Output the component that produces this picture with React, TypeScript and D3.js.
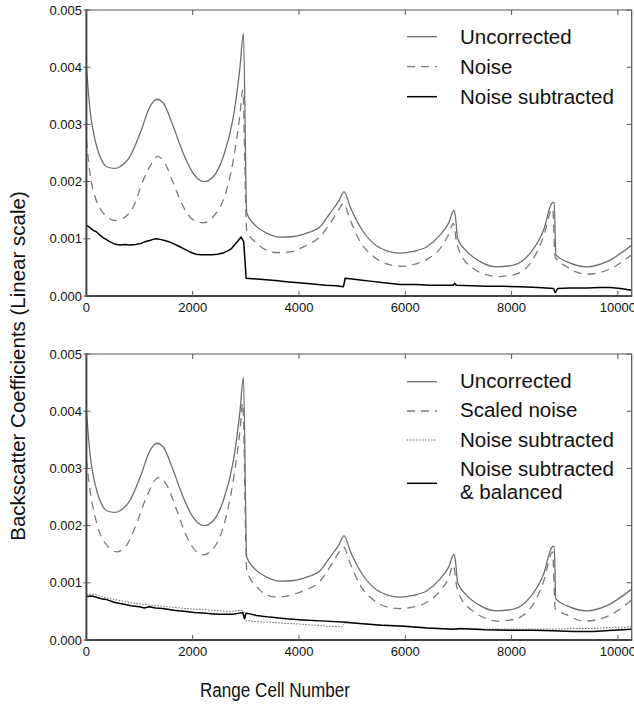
import React from "react";
import * as d3 from "d3";

const X_MAX = 10260;
const xTicks = [0, 2000, 4000, 6000, 8000, 10000];
const yTicks = [0, 0.001, 0.002, 0.003, 0.004, 0.005];
const yTickLabels = ["0.000", "0.001", "0.002", "0.003", "0.004", "0.005"];

// Uncorrected backscatter (same in both panels)
const uncorrected: [number, number][] = [
  [0, 0.00401], [68, 0.00325], [162, 0.00273], [256, 0.00244], [382, 0.00226], [538, 0.00223],
  [632, 0.00226], [820, 0.00244], [1009, 0.00284], [1197, 0.00331], [1323, 0.00344], [1448, 0.00337],
  [1636, 0.00296], [1824, 0.00249], [2012, 0.00214], [2214, 0.002], [2389, 0.00209], [2577, 0.00244],
  [2765, 0.00313], [2891, 0.00401], [2954, 0.00459], [3017, 0.00145], [3142, 0.00127], [3393, 0.0011],
  [3644, 0.00103], [3895, 0.00104], [4146, 0.0011], [4397, 0.00121], [4585, 0.00145], [4742, 0.00165],
  [4849, 0.00182], [4962, 0.00156], [5150, 0.00121], [5401, 0.00092], [5652, 0.00079], [5903, 0.00075],
  [6154, 0.00078], [6405, 0.00086], [6656, 0.00107], [6813, 0.00127], [6920, 0.0015], [6957, 0.00127],
  [6982, 0.00101], [7158, 0.00078], [7409, 0.0006], [7720, 0.00051], [8037, 0.00054], [8350, 0.00075],
  [8601, 0.00115], [8758, 0.00162], [8802, 0.00164], [8833, 0.00072], [9040, 0.0006], [9417, 0.00051],
  [9794, 0.0006], [10260, 0.00089],
];

// Top panel: noise estimate
const noise: [number, number][] = [
  [0, 0.00273], [68, 0.00214], [162, 0.00174], [256, 0.00153], [382, 0.00139], [538, 0.00132],
  [695, 0.00136], [883, 0.00156], [1072, 0.00203], [1229, 0.00232], [1335, 0.00244], [1480, 0.00232],
  [1636, 0.00197], [1824, 0.00156], [2012, 0.00133], [2200, 0.00128], [2389, 0.00139], [2577, 0.00168],
  [2765, 0.00238], [2891, 0.00319], [2941, 0.0036], [3017, 0.00115], [3205, 0.00092], [3393, 0.0008],
  [3581, 0.00076], [3832, 0.00077], [4083, 0.00086], [4397, 0.00104], [4585, 0.00127], [4742, 0.0015],
  [4836, 0.00162], [4962, 0.00133], [5150, 0.00095], [5401, 0.00069], [5652, 0.00056], [5903, 0.00052],
  [6154, 0.00055], [6405, 0.00064], [6656, 0.00083], [6813, 0.00107], [6907, 0.00127], [6957, 0.00098],
  [7033, 0.00075], [7284, 0.00048], [7534, 0.00037], [7720, 0.00034], [8037, 0.00037], [8350, 0.00057],
  [8601, 0.00104], [8771, 0.00153], [8821, 0.00068], [9040, 0.00051], [9417, 0.00038], [9794, 0.00045],
  [10260, 0.00072],
];

// Top panel: noise subtracted
const noiseSubtracted: [number, number][] = [
  [0, 0.00124], [60, 0.0012], [125, 0.00115], [190, 0.00112], [250, 0.00107], [330, 0.00101], [440, 0.00095],
  [530, 0.00091], [627, 0.00089], [720, 0.0009], [815, 0.00089], [930, 0.0009], [1035, 0.00092], [1100, 0.00095],
  [1190, 0.00097], [1250, 0.00099], [1310, 0.001], [1390, 0.00099], [1470, 0.00097], [1550, 0.00095],
  [1625, 0.00092], [1740, 0.00087], [1845, 0.00082], [1950, 0.00077], [2060, 0.00073], [2150, 0.00072],
  [2250, 0.00072], [2360, 0.00072], [2470, 0.00073], [2570, 0.00075], [2660, 0.00079], [2730, 0.00083],
  [2785, 0.00089], [2850, 0.00096], [2910, 0.00103], [2960, 0.00095], [2985, 0.0006], [3005, 0.00031],
  [3320, 0.00029], [3560, 0.00027], [3760, 0.00025], [4000, 0.00023], [4260, 0.00021], [4500, 0.00019],
  [4700, 0.00018], [4836, 0.00016], [4868, 0.00031], [4962, 0.0003], [5150, 0.00028], [5338, 0.00026],
  [5600, 0.00023], [5903, 0.0002], [6200, 0.0002], [6468, 0.00019], [6700, 0.00019], [6907, 0.00019],
  [6930, 0.00022], [6960, 0.00019], [7250, 0.00018], [7534, 0.00017], [7850, 0.00017], [8162, 0.00016],
  [8500, 0.00015], [8790, 0.00013], [8821, 0.00006], [8865, 0.00013], [9100, 0.00014], [9417, 0.00014],
  [9650, 0.00015], [9856, 0.00015], [10050, 0.00013], [10260, 0.0001],
];

// Bottom panel: scaled noise
const scaledNoise: [number, number][] = [
  [0, 0.00315], [68, 0.00262], [162, 0.00216], [256, 0.00186], [382, 0.00166], [570, 0.00154],
  [758, 0.00166], [946, 0.00204], [1135, 0.00251], [1354, 0.00284], [1511, 0.00271], [1699, 0.00227],
  [1887, 0.00181], [2075, 0.00154], [2200, 0.00149], [2389, 0.0016], [2577, 0.00198], [2765, 0.0028],
  [2891, 0.00367], [2941, 0.00414], [3017, 0.00122], [3205, 0.00093], [3393, 0.00079], [3581, 0.00075],
  [3832, 0.00078], [4083, 0.00086], [4397, 0.00103], [4585, 0.00128], [4742, 0.00152], [4836, 0.00163],
  [4962, 0.00134], [5150, 0.00096], [5401, 0.0007], [5652, 0.00058], [5903, 0.00055], [6154, 0.00058],
  [6405, 0.00066], [6656, 0.00086], [6813, 0.00108], [6907, 0.00131], [6957, 0.00099], [7033, 0.00076],
  [7284, 0.0005], [7534, 0.00037], [7720, 0.00033], [8037, 0.00036], [8350, 0.00055], [8601, 0.00102],
  [8771, 0.00154], [8821, 0.00055], [9040, 0.00044], [9354, 0.00033], [9794, 0.00041], [10260, 0.0007],
];

// Bottom panel: noise subtracted (dotted)
const noiseSubtracted2: [number, number][] = [
  [0, 0.0008], [90, 0.0008], [181, 0.00079], [280, 0.00076], [370, 0.00074], [520, 0.00071], [683, 0.00068],
  [840, 0.00065], [997, 0.00063], [1200, 0.00061], [1436, 0.00059], [1650, 0.00057], [1876, 0.00055],
  [2200, 0.00053], [2503, 0.00051], [2754, 0.0005], [2900, 0.00052], [2942, 0.00051], [2974, 0.00049],
  [3005, 0.00034], [3200, 0.00032], [3444, 0.00031], [3760, 0.00029], [4000, 0.00028], [4260, 0.00026],
  [4550, 0.00024], [4800, 0.00023], [4860, 0.0003], [5139, 0.00029], [5500, 0.00027], [5966, 0.00025],
  [6400, 0.00022], [6907, 0.00019], [7400, 0.00019], [7974, 0.00019], [8400, 0.00019], [8790, 0.00019],
  [9150, 0.0002], [9543, 0.0002], [9900, 0.00022], [10260, 0.00023],
];

// Bottom panel: noise subtracted & balanced (solid black)
const balanced: [number, number][] = [
  [0, 0.00076], [90, 0.00077], [181, 0.00075], [280, 0.00072], [370, 0.00071], [520, 0.00066], [683, 0.00063],
  [840, 0.0006], [997, 0.00058], [1090, 0.00056], [1185, 0.00058], [1300, 0.00056], [1436, 0.00055],
  [1650, 0.00052], [1876, 0.0005], [2030, 0.00048], [2190, 0.00047], [2350, 0.00046], [2503, 0.00045],
  [2754, 0.00045], [2880, 0.00047], [2942, 0.00048], [2974, 0.00037], [3005, 0.00047], [3200, 0.00043],
  [3444, 0.0004], [3760, 0.00037], [4072, 0.00035], [4500, 0.00033], [4888, 0.00031], [5139, 0.00029],
  [5550, 0.00026], [5966, 0.00024], [6400, 0.00021], [6907, 0.00019], [7033, 0.0002], [7500, 0.00018],
  [7974, 0.00017], [8400, 0.00017], [8790, 0.00016], [9150, 0.00015], [9543, 0.00015], [9900, 0.00017],
  [10260, 0.00019],
];

const FONT = "'Liberation Sans', Arial, Helvetica, sans-serif";
const LEFT = 86.4;
const RIGHT = 631.7;

type Series = { data: [number, number][]; color: string; width: number; dash?: string; curve: d3.CurveFactory };

function Panel({ top, bottom, series }: { top: number; bottom: number; series: Series[] }) {
  const x = d3.scaleLinear().domain([0, X_MAX]).range([LEFT, RIGHT]);
  const y = d3.scaleLinear().domain([0, 0.005]).range([bottom, top]);
  const clipId = `clip-${top}`;
  return (
    <g>
      <defs>
        <clipPath id={clipId}>
          <rect x={LEFT} y={top} width={RIGHT - LEFT} height={bottom - top} />
        </clipPath>
      </defs>
      <g clipPath={`url(#${clipId})`}>
        {series.map((s, i) => {
          const line = d3
            .line<[number, number]>()
            .x((d) => x(d[0]))
            .y((d) => y(d[1]))
            .curve(s.curve);
          return (
            <path
              key={i}
              d={line(s.data) || ""}
              fill="none"
              stroke={s.color}
              strokeWidth={s.width}
              strokeDasharray={s.dash}
              strokeLinejoin="round"
            />
          );
        })}
      </g>
      {/* frame */}
      <line x1={LEFT} x2={RIGHT} y1={top} y2={top} stroke="#555" strokeWidth={1.2} />
      <line x1={RIGHT} x2={RIGHT} y1={top} y2={bottom} stroke="#555" strokeWidth={1.2} />
      <line x1={LEFT} x2={LEFT} y1={top - 0.6} y2={bottom + 1} stroke="#444" strokeWidth={2} />
      <line x1={LEFT - 1} x2={RIGHT + 0.6} y1={bottom} y2={bottom} stroke="#444" strokeWidth={2} />
      {xTicks.map((t) => (
        <g key={`x${t}`}>
          <line x1={x(t)} x2={x(t)} y1={bottom} y2={bottom - 5} stroke="#555" strokeWidth={1} />
          <line x1={x(t)} x2={x(t)} y1={top} y2={top + 5} stroke="#555" strokeWidth={1} />
          <text x={x(t)} y={bottom + 15.7} textAnchor="middle" fontSize={13} fontFamily={FONT} fill="#111">
            {t}
          </text>
        </g>
      ))}
      {yTicks.map((t, i) => (
        <g key={`y${i}`}>
          <line x1={LEFT - 3} x2={LEFT + 4} y1={y(t)} y2={y(t)} stroke="#555" strokeWidth={1} />
          <line x1={RIGHT} x2={RIGHT - 5} y1={y(t)} y2={y(t)} stroke="#555" strokeWidth={1} />
          <text x={82} y={y(t) + 4.6} textAnchor="end" fontSize={13} fontFamily={FONT} fill="#111">
            {yTickLabels[i]}
          </text>
        </g>
      ))}
    </g>
  );
}

const GRAY = "#6e6e6e";
const DASH_GRAY = "#7a7a7a";

function LegendRow({ y, base, color, width, dash, lines }: { y: number; base: number; color: string; width: number; dash?: string; lines: string[] }) {
  return (
    <g>
      <line x1={407} x2={437} y1={y} y2={y} stroke={color} strokeWidth={width} strokeDasharray={dash} />
      {lines.map((l, i) => (
        <text key={i} x={460} y={base + i * 22.5} fontSize={20.5} fontFamily={FONT} fill="#111">
          {l}
        </text>
      ))}
    </g>
  );
}

export default function App() {
  const topSeries: Series[] = [
    { data: uncorrected, color: GRAY, width: 1.3, curve: d3.curveMonotoneX },
    { data: noise, color: DASH_GRAY, width: 1.3, dash: "8,6", curve: d3.curveMonotoneX },
    { data: noiseSubtracted, color: "#000", width: 1.5, curve: d3.curveLinear },
  ];
  const bottomSeries: Series[] = [
    { data: uncorrected, color: GRAY, width: 1.3, curve: d3.curveMonotoneX },
    { data: scaledNoise, color: DASH_GRAY, width: 1.3, dash: "8,6", curve: d3.curveMonotoneX },
    { data: noiseSubtracted2, color: "#666", width: 1, dash: "1.5,1.5", curve: d3.curveLinear },
    { data: balanced, color: "#000", width: 1.5, curve: d3.curveLinear },
  ];
  return (
    <svg
      width={634}
      height={706}
      style={{ position: "absolute", left: 0, top: 0, background: "#fff" }}
      xmlns="http://www.w3.org/2000/svg"
    >
      <rect width={634} height={706} fill="#fff" />
      <Panel top={10} bottom={296} series={topSeries} />
      <Panel top={354} bottom={640} series={bottomSeries} />

      <LegendRow y={36.7} base={44.3} color={GRAY} width={1.3} lines={["Uncorrected"]} />
      <LegendRow y={66.7} base={74.3} color={DASH_GRAY} width={1.3} dash="8,6" lines={["Noise"]} />
      <LegendRow y={96.7} base={104.3} color="#000" width={1.5} lines={["Noise subtracted"]} />

      <LegendRow y={381.7} base={388.3} color={GRAY} width={1.3} lines={["Uncorrected"]} />
      <LegendRow y={411} base={417.3} color={DASH_GRAY} width={1.3} dash="8,6" lines={["Scaled noise"]} />
      <LegendRow y={440} base={446.7} color="#666" width={1} dash="1.5,1.5" lines={["Noise subtracted"]} />
      <LegendRow y={483.3} base={476} color="#000" width={1.5} lines={["Noise subtracted", "& balanced"]} />

      <text
        transform="translate(25,366) rotate(-90)"
        textAnchor="middle"
        fontSize={20.5}
        fontFamily={FONT}
        fill="#111"
      >
        Backscatter Coefficients (Linear scale)
      </text>
      <text
        x={275}
        y={697}
        textAnchor="middle"
        fontSize={19.5}
        fontFamily={FONT}
        fill="#111"
        textLength={150}
        lengthAdjust="spacingAndGlyphs"
      >
        Range Cell Number
      </text>
    </svg>
  );
}
